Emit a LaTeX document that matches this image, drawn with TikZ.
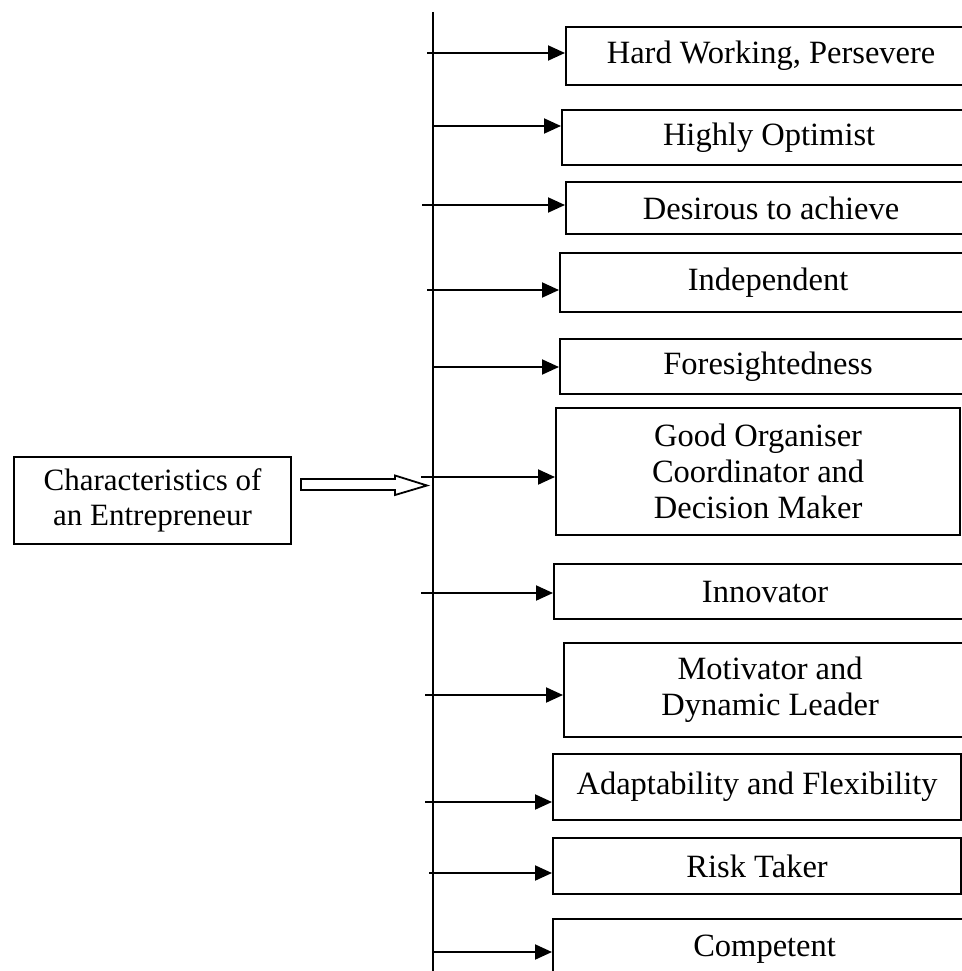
\documentclass[tikz,border=0pt]{standalone}
\usepackage{fontspec}
\setmainfont{Liberation Serif}
\usetikzlibrary{arrows.meta}
\begin{document}
\begin{tikzpicture}[x=1pt,y=-1pt,
  box/.style={draw, line width=2.2pt, rectangle, anchor=north west, inner sep=0pt,
    align=center, font=\fontsize{32.5}{36}\selectfont},
  conn/.style={line width=2pt, -{Triangle[length=17pt,width=15pt]}},
  openarrow/.style={draw, line width=1.8pt, line join=miter}]
\useasboundingbox (0,0) rectangle (961,971);
\fill[white] (0,0) rectangle (961,971);

% boxes
\node[box, minimum width=410pt, minimum height=58pt] (b1) at (565,26) {Hard Working, Persevere};
\node[box, minimum width=414pt, minimum height=55pt] (b2) at (561,109) {Highly Optimist};
\node[box, minimum width=410pt, minimum height=52pt] (b3) at (565,181) {Desirous to achieve};
\node[box, minimum width=416pt, minimum height=59pt] (b4) at (559,252) {Independent};
\node[box, minimum width=416pt, minimum height=55pt] (b5) at (559,338) {Foresightedness};
\node[box, minimum width=404pt, minimum height=127pt] (b6) at (555,407) {Good Organiser\\Coordinator and\\Decision Maker};
\node[box, minimum width=422pt, minimum height=55pt] (b7) at (553,563) {Innovator};
\node[box, minimum width=412pt, minimum height=94pt] (b8) at (563,642) {Motivator and\\Dynamic Leader};
\node[box, minimum width=408pt, minimum height=66pt] (b9) at (552,753) {Adaptability and Flexibility};
\node[box, minimum width=408pt, minimum height=56pt] (b10) at (552,837) {Risk Taker};
\node[box, minimum width=423pt, minimum height=60pt] (b11) at (552,918) {Competent};

\node[box, minimum width=277pt, minimum height=87pt, font=\fontsize{31}{35}\selectfont] (main) at (13,456) {Characteristics of\\an Entrepreneur};

% vertical spine
\coordinate (vtop) at (433,12);
\coordinate (vbot) at (433,975);
\draw[line width=2.2pt] (vtop) -- (vbot);

% arrow start points
\coordinate (s1) at (427,53);
\coordinate (s2) at (433,126);
\coordinate (s3) at (422,205);
\coordinate (s4) at (427,290);
\coordinate (s5) at (433,367);
\coordinate (s6) at (421,477);
\coordinate (s7) at (421,593);
\coordinate (s8) at (425,695);
\coordinate (s9) at (425,802);
\coordinate (s10) at (429,873);
\coordinate (s11) at (433,952);
\foreach \i in {1,...,11}{
  \draw[conn] (s\i) -- (s\i -| b\i.west);
}

% open block arrow from main box to spine
\coordinate (oa) at (301,484.5);
\coordinate (ob) at (427,485.5);
\draw[openarrow] (oa) ++(0,-5.5) -- ++(94,0) -- ++(0,-3.5) -- (ob) -- ++(-32,9.5) -- ++(0,-5) -- ++(-94,0) -- cycle;
\end{tikzpicture}
\end{document}
